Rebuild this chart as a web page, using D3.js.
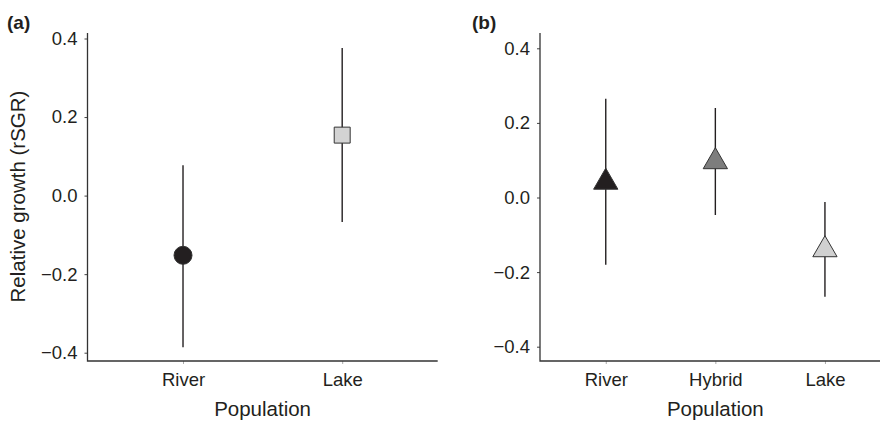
<!DOCTYPE html>
<html>
<head>
<meta charset="utf-8">
<script src="https://cdn.jsdelivr.net/npm/d3@7.9.0/dist/d3.min.js"></script>
<style>
  body { margin: 0; background: #fff; }
  svg { display: block; font-family: "Liberation Sans", Arial, sans-serif; }
  .tick text { fill: #231f20; }
</style>
</head>
<body>
<svg id="chart" width="880" height="423"></svg>
<script>
// panel (a)
const popsA = ['River', 'Lake'];
const meanA = [-0.152, 0.154];
const lowA = [-0.386, -0.067];
const highA = [0.077, 0.376];

// panel (b)
const popsB = ['River', 'Hybrid', 'Lake'];
const meanB = [0.041, 0.096, -0.140];
const lowB = [-0.180, -0.047, -0.266];
const highB = [0.265, 0.240, -0.012];

const yTicks = [-0.4, -0.2, 0.0, 0.2, 0.4];

const svg = d3.select('#chart');
const ink = '#231f20';
const fmt = (d) => d3.format('.1f')(d).replace('-', '\u2212');

function panel(opts) {
  const { pops, mean, low, high, left, right, top0, bot0, yTop, yBot, letter, letterX, shape, fills } = opts;

  let x = d3.scalePoint().domain(pops).range([left, right]).padding(0.6);
  let y = d3.scaleLinear().domain([-0.4, 0.4]).range([yBot, yTop]);

  let g = svg.append('g');

  // y axis
  let yAxis = g.append('g')
    .attr('transform', `translate(${left},0)`)
    .call(d3.axisLeft(y).tickValues(yTicks).tickFormat(fmt).tickSize(3).tickPadding(7));
  yAxis.select('.domain').remove();
  yAxis.selectAll('.tick line').attr('stroke', '#444');
  yAxis.selectAll('.tick text').attr('font-size', 18.5);

  // x axis
  let xAxis = g.append('g')
    .attr('transform', `translate(0,${bot0})`)
    .call(d3.axisBottom(x).tickSize(3).tickPadding(9));
  xAxis.select('.domain').remove();
  xAxis.selectAll('.tick line').attr('stroke', '#aaa');
  xAxis.selectAll('.tick text').attr('font-size', 18.5);

  // axis lines
  g.append('path')
    .attr('d', `M${left},${top0}V${bot0}H${right}`)
    .attr('fill', 'none')
    .attr('stroke', '#333')
    .attr('stroke-width', 1.3);

  // whiskers
  pops.forEach((p, i) => {
    g.append('line')
      .attr('x1', x(p)).attr('x2', x(p))
      .attr('y1', y(high[i])).attr('y2', y(low[i]))
      .attr('stroke', ink)
      .attr('stroke-width', 1.4);
  });

  // points
  pops.forEach((p, i) => {
    g.append('path')
      .attr('d', d3.symbol().type(shape[i]).size(255)())
      .attr('transform', `translate(${x(p)},${y(mean[i])})`)
      .attr('fill', fills[i])
      .attr('stroke', '#333')
      .attr('stroke-width', 1);
  });

  // axis title
  g.append('text')
    .attr('x', x(pops[0]) + (x(pops[pops.length - 1]) - x(pops[0])) / 2)
    .attr('y', 416)
    .attr('text-anchor', 'middle')
    .attr('font-size', 20.5)
    .attr('fill', ink)
    .text('Population');

  // panel letter
  g.append('text')
    .attr('x', letterX)
    .attr('y', 29)
    .attr('font-size', 19)
    .attr('font-weight', 'bold')
    .attr('fill', ink)
    .text(letter);
}

panel({
  pops: popsA, mean: meanA, low: lowA, high: highA,
  left: 87.5, right: 437.7, top0: 33, bot0: 361,
  yTop: 38.5, yBot: 352.7, letter: '(a)', letterX: 7,
  shape: [d3.symbolCircle, d3.symbolSquare],
  fills: ['#231f20', '#d3d3d3']
});

panel({
  pops: popsB, mean: meanB, low: lowB, high: highB,
  left: 540, right: 890.7, top0: 33, bot0: 361,
  yTop: 48.3, yBot: 346.7, letter: '(b)', letterX: 472,
  shape: [d3.symbolTriangle, d3.symbolTriangle, d3.symbolTriangle],
  fills: ['#231f20', '#7d7d7d', '#d0d0d0']
});

// y title (panel a only)
svg.append('text')
  .attr('transform', 'translate(25,196.5) rotate(-90)')
  .attr('text-anchor', 'middle')
  .attr('font-size', 20.5)
  .attr('fill', ink)
  .text('Relative growth (rSGR)');
</script>
</body>
</html>
